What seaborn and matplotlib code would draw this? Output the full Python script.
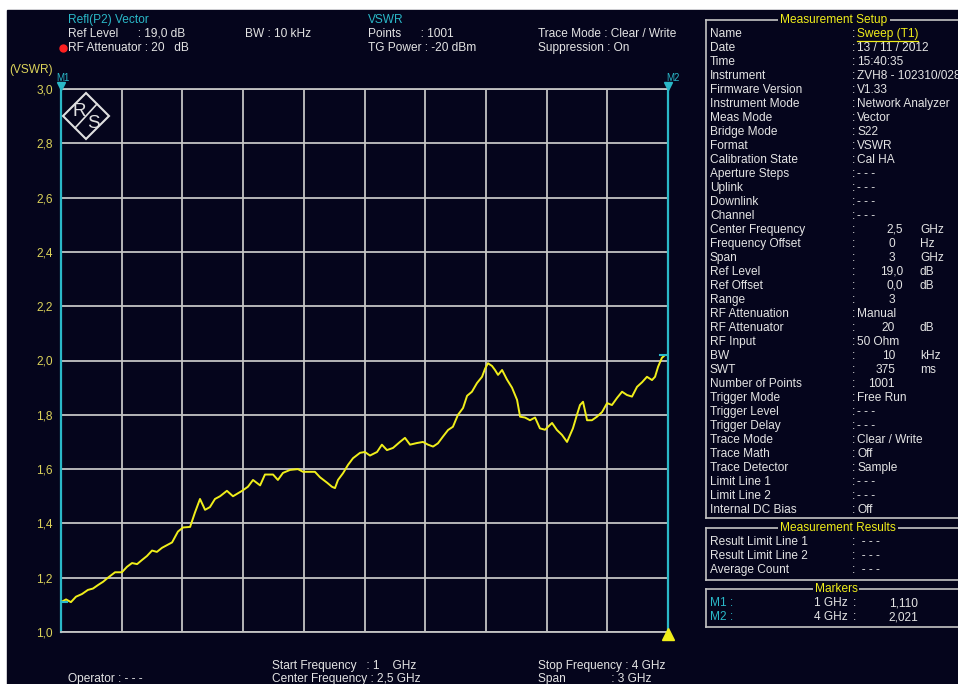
"""
ZVH8 VSWR screenshot - S22 sweep 1..4 GHz
"""
import numpy as np
import pandas as pd
import matplotlib
matplotlib.use('Agg')
import matplotlib.pyplot as plt
from matplotlib.lines import Line2D
from matplotlib.patches import Rectangle, Polygon
import seaborn as sns

W, H = 958, 684
NAVY = '#05051c'
GRID = '#c4c4c4'
TRACE = '#f0ee1a'
CYAN = '#2ab8c8'
YEL = '#dcd35a'
TXT = '#e4e4e4'

# trace (GHz, VSWR)
freq_ghz = [1.000, 1.025, 1.049, 1.074, 1.104, 1.133, 1.158, 1.183, 1.208, 1.232,
            1.267, 1.301, 1.326, 1.351, 1.376, 1.400, 1.425, 1.450, 1.474, 1.499,
            1.524, 1.549, 1.578, 1.603, 1.638, 1.662, 1.687, 1.712, 1.736, 1.761,
            1.786, 1.820, 1.850, 1.895, 1.924, 1.949, 1.984, 2.008, 2.048, 2.072,
            2.097, 2.132, 2.171, 2.196, 2.221, 2.255, 2.280, 2.315, 2.339, 2.354,
            2.369, 2.394, 2.418, 2.443, 2.478, 2.502, 2.527, 2.562, 2.586, 2.611,
            2.641, 2.675, 2.700, 2.725, 2.759, 2.789, 2.814, 2.839, 2.863, 2.888,
            2.913, 2.937, 2.962, 2.987, 3.007, 3.031, 3.056, 3.081, 3.096, 3.110,
            3.130, 3.145, 3.160, 3.180, 3.204, 3.229, 3.254, 3.269, 3.293, 3.318,
            3.343, 3.367, 3.392, 3.427, 3.451, 3.476, 3.501, 3.516, 3.530, 3.550,
            3.565, 3.580, 3.600, 3.624, 3.649, 3.674, 3.699, 3.723, 3.748, 3.773,
            3.797, 3.822, 3.847, 3.872, 3.896, 3.921, 3.936, 3.951, 3.970, 3.985,
            4.000]
vswr = [1.110, 1.120, 1.110, 1.130, 1.140, 1.155, 1.160, 1.173, 1.185, 1.200,
        1.220, 1.220, 1.240, 1.254, 1.250, 1.265, 1.280, 1.300, 1.295, 1.310,
        1.320, 1.330, 1.370, 1.385, 1.387, 1.440, 1.490, 1.450, 1.460, 1.490,
        1.500, 1.520, 1.500, 1.520, 1.535, 1.560, 1.540, 1.580, 1.580, 1.560,
        1.586, 1.597, 1.600, 1.590, 1.590, 1.590, 1.570, 1.550, 1.535, 1.530,
        1.560, 1.585, 1.615, 1.640, 1.660, 1.663, 1.650, 1.663, 1.690, 1.670,
        1.678, 1.700, 1.715, 1.690, 1.696, 1.700, 1.690, 1.683, 1.695, 1.720,
        1.744, 1.756, 1.800, 1.825, 1.870, 1.885, 1.917, 1.940, 1.970, 1.990,
        1.980, 1.965, 1.947, 1.965, 1.930, 1.900, 1.855, 1.793, 1.790, 1.780,
        1.790, 1.750, 1.745, 1.770, 1.744, 1.726, 1.700, 1.726, 1.750, 1.800,
        1.836, 1.848, 1.780, 1.780, 1.793, 1.810, 1.843, 1.836, 1.862, 1.885,
        1.873, 1.867, 1.903, 1.920, 1.940, 1.928, 1.940, 1.977, 2.010, 2.020,
        2.021]

y_ticks = [1.0, 1.2, 1.4, 1.6, 1.8, 2.0, 2.2, 2.4, 2.6, 2.8, 3.0]
x_grid = [1.0, 1.3, 1.6, 1.9, 2.2, 2.5, 2.8, 3.1, 3.4, 3.7, 4.0]

setup_rows = [
    ('Name', 'Sweep (T1)', None), ('Date', '13 / 11 / 2012', None),
    ('Time', '15:40:35', None), ('Instrument', 'ZVH8 - 102310/028', None),
    ('Firmware Version', 'V1.33', None), ('Instrument Mode', 'Network Analyzer', None),
    ('Meas Mode', 'Vector', None), ('Bridge Mode', 'S22', None),
    ('Format', 'VSWR', None), ('Calibration State', 'Cal HA', None),
    ('Aperture Steps', '- - -', None), ('Uplink', '- - -', None),
    ('Downlink', '- - -', None), ('Channel', '- - -', None),
    ('Center Frequency', '2,5', 'GHz'), ('Frequency Offset', '0', 'Hz'),
    ('Span', '3', 'GHz'), ('Ref Level', '19,0', 'dB'),
    ('Ref Offset', '0,0', 'dB'), ('Range', '3', ''),
    ('RF Attenuation', 'Manual', None), ('RF Attenuator', '20', 'dB'),
    ('RF Input', '50 Ohm', None), ('BW', '10', 'kHz'),
    ('SWT', '375', 'ms'), ('Number of Points', '1001', ''),
    ('Trigger Mode', 'Free Run', None), ('Trigger Level', '- - -', None),
    ('Trigger Delay', '- - -', None), ('Trace Mode', 'Clear / Write', None),
    ('Trace Math', 'Off', None), ('Trace Detector', 'Sample', None),
    ('Limit Line 1', '- - -', None), ('Limit Line 2', '- - -', None),
    ('Internal DC Bias', 'Off', None),
]
result_rows = ['Result Limit Line 1', 'Result Limit Line 2', 'Average Count']
marker_names = ['M1', 'M2']
marker_freqs = ['1 GHz', '4 GHz']
marker_vals = ['1,110', '2,021']

plt.rcParams['font.family'] = ['Liberation Sans Narrow', 'Liberation Sans', 'DejaVu Sans']
FS = 8.6


def fx(x):
    return x / W


def fy(y):
    return 1 - y / H


def ftext(x, y, s, color=TXT, ha='left', size=FS, **kw):
    return fig.text(fx(x), fy(y), s, color=color, ha=ha, va='center', fontsize=size, **kw)


def fline(xs, ys, color=GRID, lw=1.2):
    fig.add_artist(Line2D([fx(v) for v in xs], [fy(v) for v in ys],
                          color=color, lw=lw, transform=fig.transFigure))


fig = plt.figure(figsize=(W / 100, H / 100), dpi=100, facecolor='white')
# dark screen behind everything (white strip left and top stays)
fig.patches.append(Rectangle((fx(7), 0), 1, fy(10), transform=fig.transFigure,
                             color=NAVY, zorder=-5))

# main trace area
ax = fig.add_axes([fx(61), 52 / H, 607 / W, 543 / H])
ax.set_zorder(2)
ax.set_facecolor(NAVY)
df = pd.DataFrame({'f': freq_ghz, 'v': vswr})
sns.lineplot(data=df, x='f', y='v', ax=ax, color=TRACE, lw=1.4, sort=False,
             estimator=None, zorder=5)
ax.set_xlim(1, 4)
ax.set_ylim(1, 3)
ax.set_xticks(x_grid)
ax.set_yticks(y_ticks)
ax.set_yticklabels([f'{v:.1f}'.replace('.', ',') for v in y_ticks])
ax.set_xlabel('')
ax.set_ylabel('')
ax.grid(True, color=GRID, lw=1.3)
ax.set_axisbelow(True)
ax.tick_params(length=0, labelbottom=False, labelcolor=YEL, labelsize=FS, pad=6)
for side in ['top', 'bottom']:
    ax.spines[side].set_color(GRID)
    ax.spines[side].set_linewidth(1.3)
for side in ['left', 'right']:
    ax.spines[side].set_color(CYAN)
    ax.spines[side].set_linewidth(1.6)

# marker symbols on the trace
ax.plot([1.0, 1.03], [vswr[0], vswr[0]], color=CYAN, lw=1.5, zorder=6)
ax.plot([3.96, 4.0], [vswr[-1], vswr[-1]], color=CYAN, lw=1.5, zorder=6)

# R&S logo inside the first grid cell
logo = '#e0e0e0'
ax.add_patch(Polygon([(fx(63), fy(116)), (fx(86), fy(93)), (fx(109), fy(116)),
                      (fx(86), fy(139))], closed=True, fill=False,
                     edgecolor=logo, lw=1.5, transform=fig.transFigure, zorder=7))
ax.add_line(Line2D([fx(75), fx(97)], [fy(128), fy(104)], color=logo, lw=1.2,
                   transform=fig.transFigure, zorder=7))
ax.text(fx(79), fy(111), 'R', color=logo, ha='center', va='center', fontsize=13.5,
        transform=fig.transFigure, zorder=7)
ax.text(fx(93), fy(123), 'S', color=logo, ha='center', va='center', fontsize=13.5,
        transform=fig.transFigure, zorder=7)

# marker flags above the area and the bottom-right triangle
for xm, name, dx in [(61, 'M1', 2), (668, 'M2', 5)]:
    fig.add_artist(Line2D([fx(xm)], [fy(86)], marker='v', ms=6, color=CYAN,
                          transform=fig.transFigure, zorder=5))
    ftext(xm + dx, 78, name, color=CYAN, ha='center', size=7)
fig.add_artist(Line2D([fx(668)], [fy(634)], marker='^', ms=8, color=TRACE,
                      transform=fig.transFigure, zorder=5))

ftext(9, 70, '(VSWR)', color=YEL)

# header
ftext(68, 20, 'Refl(P2) Vector', color=CYAN)
ftext(68, 34, 'Ref Level      : 19,0 dB')
ftext(68, 48, 'RF Attenuator : 20   dB')
fig.add_artist(Line2D([fx(63)], [fy(48)], marker='o', ms=5, color='#ff2020',
                      transform=fig.transFigure))
ftext(245, 34, 'BW : 10 kHz')
ftext(368, 20, 'VSWR', color=CYAN)
ftext(368, 34, 'Points      : 1001')
ftext(368, 48, 'TG Power : -20 dBm')
ftext(538, 34, 'Trace Mode : Clear / Write')
ftext(538, 48, 'Suppression : On')

# footer (bottom row is cut by the screen edge in the capture)
ftext(272, 666, 'Start Frequency   : 1    GHz')
ftext(272, 679, 'Center Frequency : 2,5 GHz')
ftext(538, 666, 'Stop Frequency : 4 GHz')
ftext(538, 679, 'Span              : 3 GHz')
ftext(68, 679, 'Operator : - - -')


def panel_box(top, bottom, title, xc):
    fline([706, 706], [top, bottom])
    fline([706, 960], [top, top])
    fline([706, 960], [bottom, bottom])
    ftext(xc, top, title, color=TRACE, ha='center',
          bbox=dict(facecolor=NAVY, edgecolor='none', pad=1.5))


# measurement setup panel
panel_box(20, 518, 'Measurement Setup', 834)
for i, (label, value, unit) in enumerate(setup_rows):
    y = 34 + 14 * i
    ftext(710, y, label)
    ftext(852, y, ':')
    if unit is None:
        col = TRACE if label == 'Name' else TXT
        ftext(857, y, value, color=col)
    else:
        ftext(903 if ',' in value else 895, y, value, ha='right')
        ftext(920, y, unit)
fline([857, 918], [41, 41], color=TRACE, lw=0.9)

panel_box(528, 580, 'Measurement Results', 838)
for i, label in enumerate(result_rows):
    y = 542 + 14 * i
    ftext(710, y, label)
    ftext(852, y, ':  - - -')

panel_box(589, 627, 'Markers', 836)
for i, (name, mf, mv) in enumerate(zip(marker_names, marker_freqs, marker_vals)):
    y = 603 + 14 * i
    ftext(710, y, name + ' :', color=CYAN)
    ftext(848, y, mf, ha='right')
    ftext(853, y, ':')
    ftext(918, y, mv, ha='right')

fig.savefig('out.png', dpi=100, facecolor=fig.get_facecolor())
